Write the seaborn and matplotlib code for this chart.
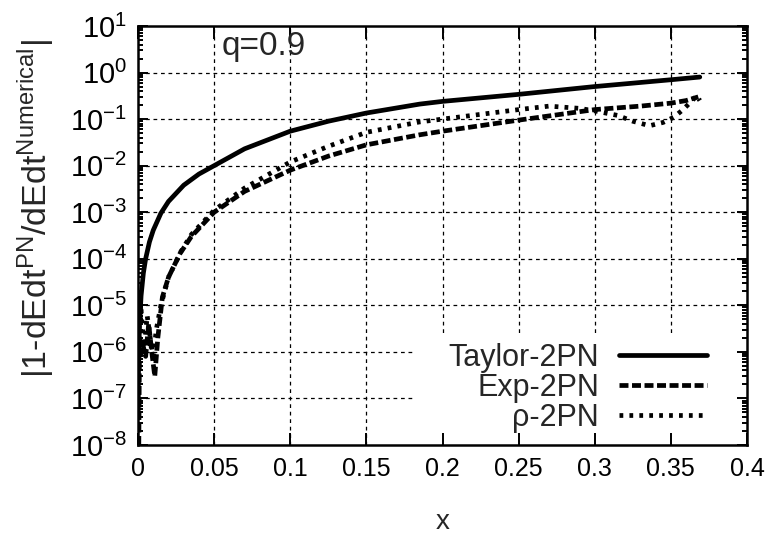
import numpy as np
import pandas as pd
import seaborn as sns
import matplotlib.pyplot as plt
from matplotlib.patches import Rectangle
from matplotlib.ticker import LogLocator, FixedLocator, FuncFormatter, NullFormatter

# values (q = 0.9)
x_taylor = [0.0001, 0.0003, 0.0006, 0.001, 0.002, 0.0035, 0.005, 0.0075, 0.01,
            0.015, 0.02, 0.03, 0.04, 0.05, 0.07, 0.1, 0.125, 0.15, 0.185, 0.2,
            0.25, 0.3, 0.35, 0.369]
err_taylor = [4e-8, 3.6e-7, 1.5e-6, 4e-6, 1.6e-5, 4.9e-5, 1e-4, 2.3e-4, 4.1e-4,
              9.5e-4, 1.7e-3, 3.8e-3, 6.6e-3, 1.0e-2, 2.3e-2, 5.5e-2, 0.09, 0.135,
              0.21, 0.24, 0.34, 0.5, 0.7, 0.8]

x_exp = [0.0005, 0.001, 0.003, 0.005, 0.007, 0.009, 0.011, 0.013, 0.016, 0.02,
         0.0276, 0.035, 0.05, 0.07, 0.1, 0.125, 0.15, 0.185, 0.2, 0.25, 0.3,
         0.33, 0.35, 0.36, 0.368]
err_exp = [1e-8, 2e-6, 1.5e-6, 8e-7, 4e-6, 1e-6, 3e-7, 2e-6, 1.5e-5, 4e-5,
           1.3e-4, 3e-4, 1.0e-3, 2.8e-3, 8e-3, 1.6e-2, 2.8e-2, 4.6e-2, 5.5e-2,
           0.095, 0.16, 0.19, 0.22, 0.25, 0.3]

x_rho = [0.0005, 0.002, 0.004, 0.006, 0.008, 0.01, 0.012, 0.015, 0.02, 0.028,
         0.035, 0.05, 0.07, 0.1, 0.125, 0.15, 0.185, 0.2, 0.25, 0.27, 0.29, 0.3,
         0.315, 0.325, 0.336, 0.345, 0.352, 0.358, 0.364, 0.367, 0.369]
err_rho = [3e-6, 8e-6, 1e-6, 6e-6, 2e-6, 8e-7, 3e-6, 1e-5, 4e-5, 1.4e-4,
           3.3e-4, 1.1e-3, 3.3e-3, 1.2e-2, 2.6e-2, 5.2e-2, 8.7e-2, 0.1, 0.16,
           0.19, 0.17, 0.15, 0.12, 0.09, 0.072, 0.085, 0.11, 0.16, 0.25, 0.32, 0.25]

labels = ['Taylor-2PN', 'Exp-2PN', '\u03c1-2PN']
x_ticks = [0, 0.05, 0.1, 0.15, 0.2, 0.25, 0.3, 0.35, 0.4]

sns.set_style('ticks')
plt.rcParams['font.family'] = ['Liberation Sans', 'DejaVu Sans']
plt.rcParams['mathtext.fontset'] = 'custom'
plt.rcParams['mathtext.rm'] = 'Liberation Sans'
plt.rcParams['mathtext.it'] = 'Liberation Sans:italic'
plt.rcParams['mathtext.sf'] = 'Liberation Sans'
plt.rcParams['axes.unicode_minus'] = False

fig = plt.figure(figsize=(7.72, 5.38), dpi=100)
ax = fig.add_axes([0.1788, 0.1729, 0.9676 - 0.1788, 0.9517 - 0.1729])

# dashed grid drawn by hand so the key box can hide it
for yv in [1e-7, 1e-6, 1e-5, 1e-4, 1e-3, 1e-2, 1e-1, 1e0]:
    ax.axhline(yv, color='black', lw=0.9, ls=(0, (3, 3)), zorder=1)
for xv in x_ticks[1:-1]:
    ax.axvline(xv, color='black', lw=0.9, ls=(0, (3, 3)), zorder=1)
ax.add_patch(Rectangle((0.453, 0.0), 0.547, 0.2625, transform=ax.transAxes,
                       facecolor='white', edgecolor='none', zorder=1.5))

sns.lineplot(x=x_taylor, y=err_taylor, ax=ax, color='black', lw=3.4,
             label=labels[0], zorder=2)
sns.lineplot(x=x_exp, y=err_exp, ax=ax, color='black', lw=3.4,
             linestyle=(0, (1.9, 0.75)), label=labels[1], zorder=2)
sns.lineplot(x=x_rho, y=err_rho, ax=ax, color='black', lw=3.4,
             linestyle=(0, (0.8, 1.3)), label=labels[2], zorder=2)

ax.set_yscale('log')
ax.set_xlim(0, 0.4)
ax.set_ylim(1e-8, 1e1)
ax.set_axisbelow(False)

ax.xaxis.set_major_locator(FixedLocator(x_ticks))
ax.xaxis.set_major_formatter(FuncFormatter(lambda v, p: '%g' % v))
ax.yaxis.set_major_locator(LogLocator(base=10, numticks=20))
ax.yaxis.set_minor_locator(LogLocator(base=10, subs=np.arange(2, 10), numticks=20))
ax.yaxis.set_minor_formatter(NullFormatter())

ax.tick_params(axis='both', which='both', direction='in', top=True, right=True,
               colors='black', width=1.4)
ax.tick_params(axis='x', which='major', length=9, pad=9, labelsize=18)
ax.tick_params(axis='y', which='major', length=7, pad=8, labelsize=21)
ax.tick_params(axis='y', which='minor', length=3.5)
for s in ax.spines.values():
    s.set_linewidth(1.8)
    s.set_color('black')

ax.set_xlabel('x', fontsize=20, labelpad=20)
ax.set_ylabel('')
fig.text(36 / 772, 1 - 209 / 538,
         r'|1-dEdt$^{\mathrm{PN}}$/dEdt$^{\mathrm{Numerical}}$|',
         rotation=90, ha='center', va='center', fontsize=24.5)
ax.text(0.138, 0.95, 'q=0.9', transform=ax.transAxes, fontsize=24,
        ha='left', va='center')

leg = ax.legend(loc='lower right', bbox_to_anchor=(0.955, 0.0), frameon=False,
                markerfirst=False, fontsize=22, handlelength=2.9,
                labelspacing=0.0, borderaxespad=0, handletextpad=0.65)

fig.savefig('out.png', dpi=100)
